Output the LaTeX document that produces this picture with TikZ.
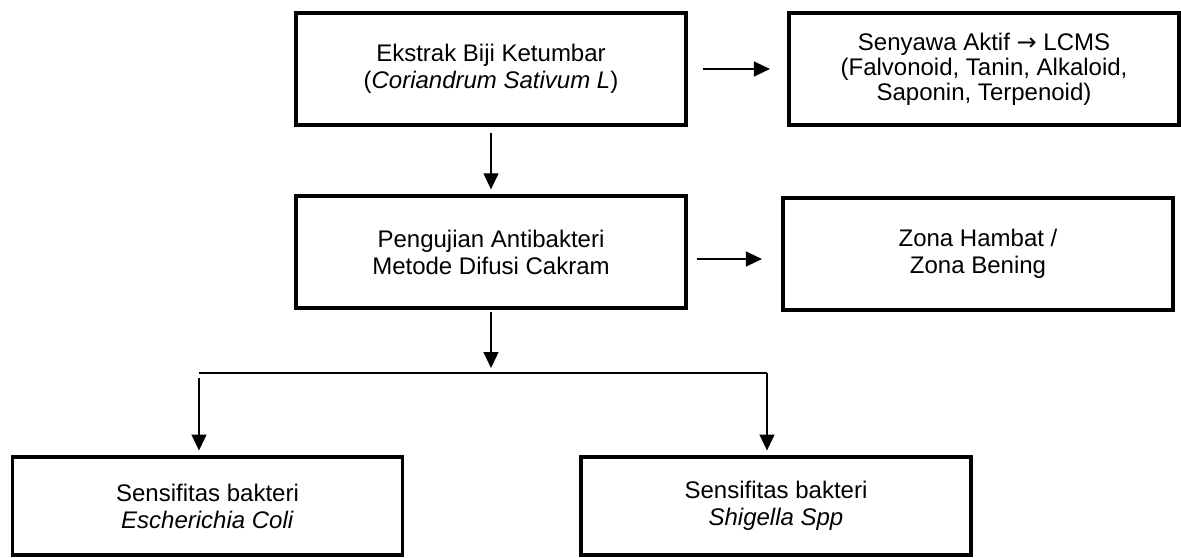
\documentclass[tikz,border=0pt]{standalone}
\usepackage{fontspec}
\setmainfont{Liberation Sans}
\newfontfamily\panahfont{DejaVu Sans}
\usetikzlibrary{arrows.meta}

\tikzset{
  kotak/.style={draw=black,line width=1.65pt,minimum width=195pt,minimum height=56pt,
    inner sep=0pt,align=center,font=\fontsize{12}{13.5}\selectfont},
  panah/.style={line width=0.6pt,-{Triangle[length=8pt,width=7.5pt]}}
}

\begin{document}
\begin{tikzpicture}[x=0.5pt,y=-0.5pt]

    \useasboundingbox (0,0) rectangle (1181,557);

    \node[kotak] (ekstrak) at (491,69)
      {Ekstrak Biji Ketumbar\\(\textit{Coriandrum Sativum L})};

    \node[kotak,font=\fontsize{12}{12.5}\selectfont] (senyawa) at (984,69)
      {Senyawa Aktif {\panahfont →} LCMS\\(Falvonoid, Tanin, Alkaloid,\\Saponin, Terpenoid)};

    \node[kotak] (uji) at (491,252) {Pengujian Antibakteri\\Metode Difusi Cakram};

    \node[kotak] (zona) at (978,254) {Zona Hambat /\\Zona Bening};

    \node[kotak,minimum height=49pt] (ecoli) at (207.5,506)
      {Sensifitas bakteri\\\textit{Escherichia Coli}};

    \node[kotak,minimum height=49pt] (shigella) at (776,506)
      {Sensifitas bakteri\\\textit{Shigella Spp}};



    \coordinate (hasil) at ([yshift=-3.5pt]uji.east);
    \coordinate (cabang) at (491,373);
    \coordinate (kiri) at (199,373);
    \coordinate (kanan) at (767,373);

    \draw[panah,shorten <=7.5pt,shorten >=8.7pt] (ekstrak.east) -- (senyawa.west);

    \draw[panah,shorten <=3.4pt,shorten >=2.5pt] (ekstrak.south) -- (uji.north);

    \draw[panah,shorten <=4.5pt,shorten >=9.7pt] (hasil) -- (hasil -| zona.west);

    \draw[panah,shorten <=1pt,shorten >=2.5pt] (uji.south) -- (cabang);

    \draw[line width=0.6pt] (kiri) -- (kanan);

    \draw[panah,shorten <=2.5pt,shorten >=2.4pt] (kiri) -- (kiri |- ecoli.north);

    \draw[panah,shorten >=2.4pt] (kanan) -- (kanan |- shigella.north);

\end{tikzpicture}
\end{document}
